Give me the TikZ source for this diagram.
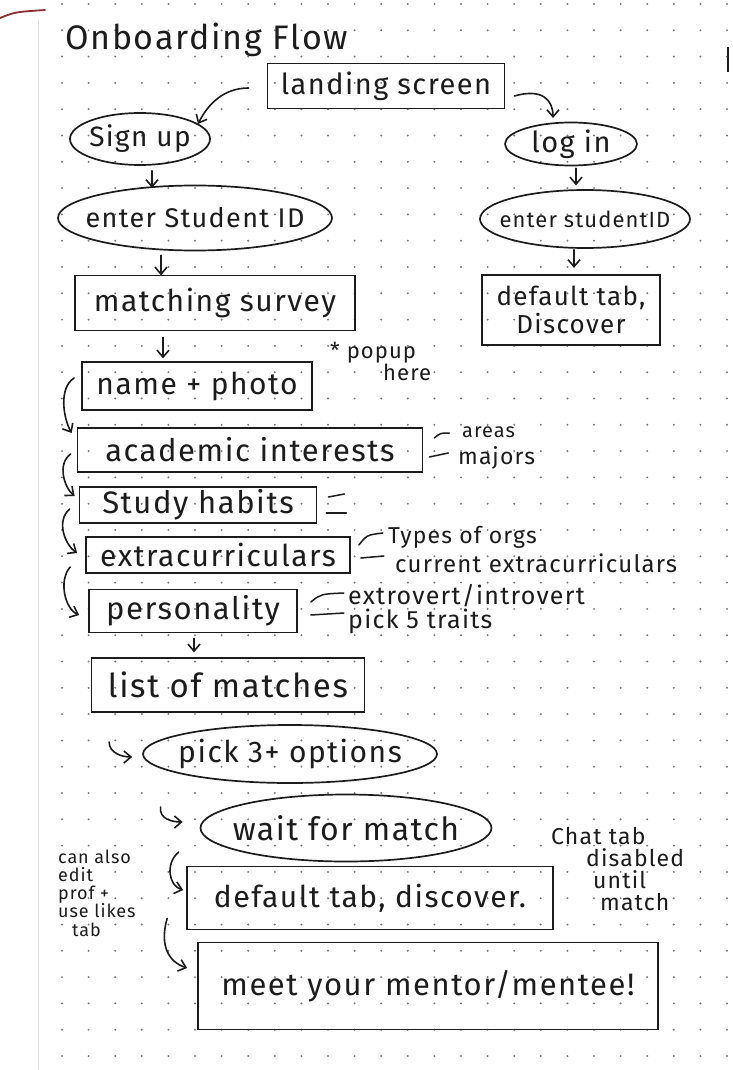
\documentclass[tikz,border=0pt]{standalone}
\usepackage{fontspec}
\setmainfont{Fira Sans}[LetterSpace=5]
\usetikzlibrary{calc,arrows.meta,shapes.geometric}

\definecolor{ink}{HTML}{1C1C1C}
\definecolor{dotc}{HTML}{7A7A7A}
\definecolor{edge}{HTML}{8A2E2E}

\newcommand{\fs}[1]{\fontsize{#1}{#1}\selectfont}

\tikzset{
  pen/.style={draw=ink, line width=1.7pt},
  stepbox/.style={pen, rectangle, inner sep=0pt, text=ink},
  % ellipse of fixed size, its text set as a centred label
  roundstep/.style={pen, ellipse, inner sep=0pt},
  inside/.style n args={2}{label={[text=ink, inner sep=0pt, font=\fs{#1}]center:#2}},
  note/.style={text=ink, inner sep=0pt, anchor=west},
  arr/.style={draw=ink, line width=1.6pt, line cap=round,
    -{Straight Barb[length=7pt,width=12pt,line width=1.6pt]}},
  tick/.style={draw=ink, line width=1.5pt, line cap=round},
}

\begin{document}
\begin{tikzpicture}[x=1pt,y=-1pt]
\useasboundingbox (0,0) rectangle (732,1070);
\fill[white] (0,0) rectangle (732,1070);

% dotted notebook paper
\foreach \i in {0,...,25}
  \foreach \j in {0,...,40}
    \fill[dotc] (62+\i*26.6, 4+\j*26.3) circle (1.1);
\draw[black!12, line width=1pt] (38,20) -- (38,1070);
\draw[edge, line width=1.8pt, line cap=round] (0,18) .. controls (15,12) .. (45,10);
\draw[ink, line width=2.5pt] (728,47) -- (728,72);

% title
\node[note, anchor=base west, font=\fs{34}] (title) at (65,50) {Onboarding Flow};

% entry screens
\node[stepbox, minimum width=237, minimum height=45, font=\fs{29}] (landing) at (386,86) {landing screen};
\node[roundstep, minimum width=140, minimum height=52, inside={28}{Sign up}] (signup) at (140,139) {};
\node[roundstep, minimum width=132, minimum height=43, inside={29}{log in}] (login) at (571,144) {};
\node[roundstep, minimum width=274, minimum height=65, inside={27}{enter Student ID}] (enterL) at (195,218) {};
\node[roundstep, minimum width=210, minimum height=58, inside={22}{enter studentID}] (enterR) at (585,219) {};
\node[stepbox, minimum width=280, minimum height=55, font=\fs{30}] (survey) at (215,303) {matching survey};
\node[stepbox, minimum width=178, minimum height=70, font=\fs{26}, align=center] (deftabR) at (571,310) {default tab,\\[2pt]Discover};

\node[note, font=\fs{22}, align=left] (popup) at (330,361) {* popup\\\hspace*{53pt}here};

% survey steps
\node[stepbox, minimum width=230, minimum height=48, font=\fs{30}] (name) at (197,386) {name + photo};
\node[stepbox, minimum width=345, minimum height=44, font=\fs{31}] (acad) at (250,450) {academic interests};
\node[stepbox, minimum width=237, minimum height=36, font=\fs{31}] (study) at (198,505) {Study habits};
\node[stepbox, minimum width=264, minimum height=36, font=\fs{30}] (extra) at (218,555) {extracurriculars};
\node[stepbox, minimum width=208, minimum height=43, font=\fs{31}] (pers) at (193,611) {personality};

\node[note, font=\fs{20}] (areas) at (462,432) {areas};
\node[note, font=\fs{23}] (majors) at (458,458) {majors};
\node[note, font=\fs{23}] (types) at (388,537) {Types of orgs};
\node[note, font=\fs{24}] (current) at (395,563) {current extracurriculars};
\node[note, font=\fontsize{25}{24}\selectfont, align=left] (traits) at (348,609) {extrovert/introvert\\pick 5 traits};

% matching
\node[stepbox, minimum width=273, minimum height=54, font=\fs{33}] (list) at (228,685) {list of matches};
\node[roundstep, minimum width=294, minimum height=58, inside={30}{pick 3+ options}] (pick) at (290,754) {};
\node[roundstep, minimum width=291, minimum height=67, inside={32}{wait for match}] (wait) at (346,828) {};
\node[stepbox, minimum width=366, minimum height=63, font=\fs{30}] (deftab) at (370,898) {default tab, discover.};
\node[stepbox, minimum width=460, minimum height=87, font=\fs{31}] (meet) at (428,986) {meet your mentor/mentee!};

\node[note, font=\fontsize{23}{22}\selectfont, align=left] (chat) at (551,869)
  {Chat tab\\\hspace*{35pt}disabled\\\hspace*{42pt}until\\\hspace*{49pt}match};

\node[note, font=\fontsize{18}{18.2}\selectfont, align=left] (also) at (58,893)
  {can also\\edit\\prof +\\use likes\\\hspace*{14pt}tab};

% connectors
\draw[arr] ($(landing.west)+(-18,2)$) .. controls +(-25,0) and +(10,-20) .. ($(signup.center)+(58,-15)$);
\draw[arr] ($(landing.east)+(9,10)$) .. controls +(28,-8) and +(0,-18) .. ($(login.center)+(-18,-26)$);
\draw[arr] ($(signup.south)+(12,5)$) -- ++(0,17);
\draw[arr] ($(login.south)+(5,2)$) -- ++(0,17);
\draw[arr] ($(enterL.south)+(-34,4)$) -- ++(0,20);
\draw[arr] ($(enterR.south)+(-11,1)$) -- ++(0,18);
\draw[arr] ($(survey.south)+(-52,6)$) -- ++(0,21);

\draw[arr] ($(name.west)+(-7,-8)$) .. controls +(-16,10) and +(-8,-14) .. ($(acad.west)+(-5,-17)$);
\draw[arr] ($(acad.west)+(-6,4)$) .. controls +(-14,10) and +(-10,-8) .. ($(study.west)+(-4,-9)$);
\draw[arr] ($(study.west)+(-9,4)$) .. controls +(-14,12) and +(-12,-8) .. ($(extra.west)+(-8,-2)$);
\draw[arr] ($(extra.west)+(-15,12)$) .. controls +(-12,14) and +(-14,-6) .. ($(pers.west)+(-9,4)$);
\draw[arr] ($(pers.south)+(1,5)$) -- ++(0,14);

\draw[arr] ($(pick.west)+(-33,-12)$) .. controls +(0,11) and +(-10,0) .. ($(pick.west)+(-10,3)$);
\draw[arr] ($(wait.west)+(-39,-21)$) .. controls +(-2,12) and +(-10,0) .. ($(wait.west)+(-17,-6)$);
\draw[arr] ($(wait.west)+(-21,24)$) .. controls +(-14,12) and +(-14,-4) .. ($(deftab.west)+(-3,-8)$);
\draw[arr] ($(deftab.south west)+(-19,-12)$) .. controls +(-8,28) and +(-18,-6) .. ($(meet.west)+(-10,-18)$);

% side notes ticks
\draw[tick] ($(acad.east)+(11,-12)$) .. controls +(6,-5) .. ($(acad.east)+(26,-17)$);
\draw[tick] ($(acad.east)+(6,7)$) -- ($(acad.east)+(25,3)$);
\draw[tick] ($(study.east)+(11,-8)$) -- ($(study.east)+(27,-11)$);
\draw[tick] ($(study.east)+(9,8)$) -- ($(study.east)+(29,8)$);
\draw[tick] ($(extra.east)+(8,-10)$) .. controls +(8,-10) .. ($(extra.east)+(32,-22)$);
\draw[tick] ($(extra.east)+(10,3)$) -- ($(extra.east)+(33,1)$);
\draw[tick] ($(pers.east)+(13,-9)$) .. controls +(10,-8) .. ($(pers.east)+(46,-18)$);
\draw[tick] ($(pers.east)+(13,4)$) -- ($(pers.east)+(46,2)$);
\end{tikzpicture}
\end{document}
